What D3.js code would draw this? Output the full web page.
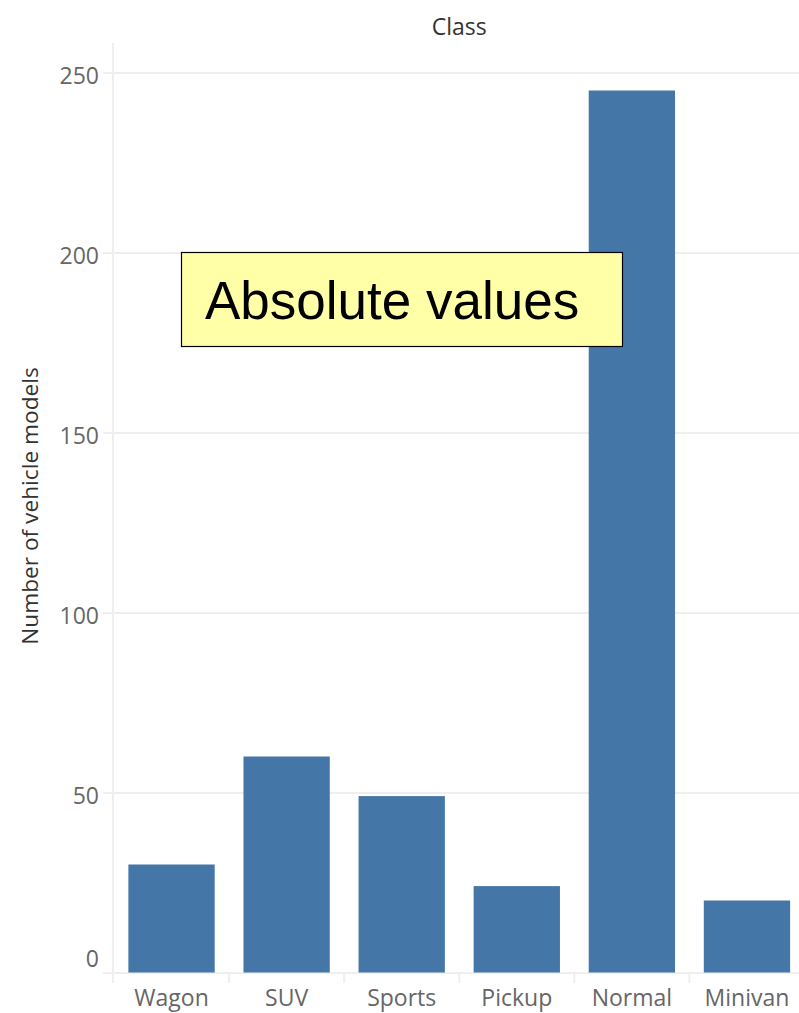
<!DOCTYPE html>
<html>
<head>
<meta charset="utf-8">
<script src="https://cdn.jsdelivr.net/npm/d3@7"></script>
<style>
  html, body { margin: 0; padding: 0; background: #fff; }
  svg { display: block; }
</style>
</head>
<body>
<svg id="chart" width="799" height="1013"></svg>
<script>
// Number of vehicle models per class
const categories = ["Wagon", "SUV", "Sports", "Pickup", "Normal", "Minivan"];
const counts = [30, 60, 49, 24, 245, 20];
const yTicks = [0, 50, 100, 150, 200, 250];

const svg = d3.select("#chart");
const W = 799, H = 1013;

const x = d3.scaleBand()
  .domain(categories)
  .range([114, 804.5])
  .paddingInner(0.25)
  .paddingOuter(0.125);

const y = d3.scaleLinear()
  .domain([0, 250])
  .range([972.5, 72.5]);

const gridColor = "#efefef";
const labelFont = "'Open Sans', 'Noto Sans', sans-serif";

// Horizontal gridlines
const grid = svg.append("g")
  .attr("transform", "translate(103,0)")
  .call(d3.axisRight(y).tickValues(yTicks).tickSize(W - 103).tickFormat(""));
grid.select(".domain").remove();
grid.selectAll("line").attr("stroke", gridColor).attr("stroke-width", 2);

// Vertical axis rule
svg.append("line")
  .attr("x1", 113).attr("x2", 113)
  .attr("y1", 43).attr("y2", 983)
  .attr("stroke", gridColor).attr("stroke-width", 2);

// Category boundary ticks below the baseline
svg.append("g")
  .selectAll("line")
  .data(categories.slice(1))
  .join("line")
  .attr("x1", d => x(d) - x.step() * x.paddingInner() / 2)
  .attr("x2", d => x(d) - x.step() * x.paddingInner() / 2)
  .attr("y1", y(0))
  .attr("y2", 983)
  .attr("stroke", gridColor).attr("stroke-width", 2);

// Bars
svg.append("g")
  .selectAll("rect")
  .data(categories)
  .join("rect")
  .attr("x", d => x(d))
  .attr("width", x.bandwidth())
  .attr("y", (d, i) => y(counts[i]))
  .attr("height", (d, i) => y(0) - y(counts[i]))
  .attr("fill", "#4477a8");

// Y tick labels
const yAxis = svg.append("g")
  .attr("transform", "translate(99,0)")
  .call(d3.axisLeft(y).tickValues(yTicks).tickSize(0).tickPadding(0));
yAxis.select(".domain").remove();
yAxis.selectAll("text")
  .attr("font-family", labelFont)
  .attr("font-size", 23)
  .attr("fill", "#666")
  .attr("dy", d => d === 0 ? "-5.8" : "10.5");

// Category labels
const xAxis = svg.append("g")
  .attr("transform", `translate(0,${y(0)})`)
  .call(d3.axisBottom(x).tickSize(0));
xAxis.select(".domain").remove();
xAxis.selectAll("text")
  .attr("font-family", labelFont)
  .attr("font-size", 23)
  .attr("fill", "#666")
  .attr("y", 33.5)
  .attr("dy", 0);

// Column header
svg.append("text")
  .attr("x", (x.range()[0] + x.range()[1]) / 2)
  .attr("y", 35)
  .attr("text-anchor", "middle")
  .attr("font-family", labelFont)
  .attr("font-size", 23)
  .attr("fill", "#333")
  .text("Class");

// Y axis title
svg.append("text")
  .attr("transform", "translate(38,506) rotate(-90)")
  .attr("text-anchor", "middle")
  .attr("font-family", labelFont)
  .attr("font-size", 22.7)
  .attr("fill", "#333")
  .text("Number of vehicle models");

// Annotation box
const note = svg.append("g");
note.append("rect")
  .attr("x", 181.5).attr("y", 252.5)
  .attr("width", 441).attr("height", 94)
  .attr("fill", "#ffffa8")
  .attr("stroke", "#000").attr("stroke-width", 1.2);
note.append("text")
  .attr("x", 205).attr("y", 319)
  .attr("font-family", "'Liberation Sans', Arial, sans-serif")
  .attr("font-size", 53)
  .attr("fill", "#000")
  .text("Absolute values");
</script>
</body>
</html>
